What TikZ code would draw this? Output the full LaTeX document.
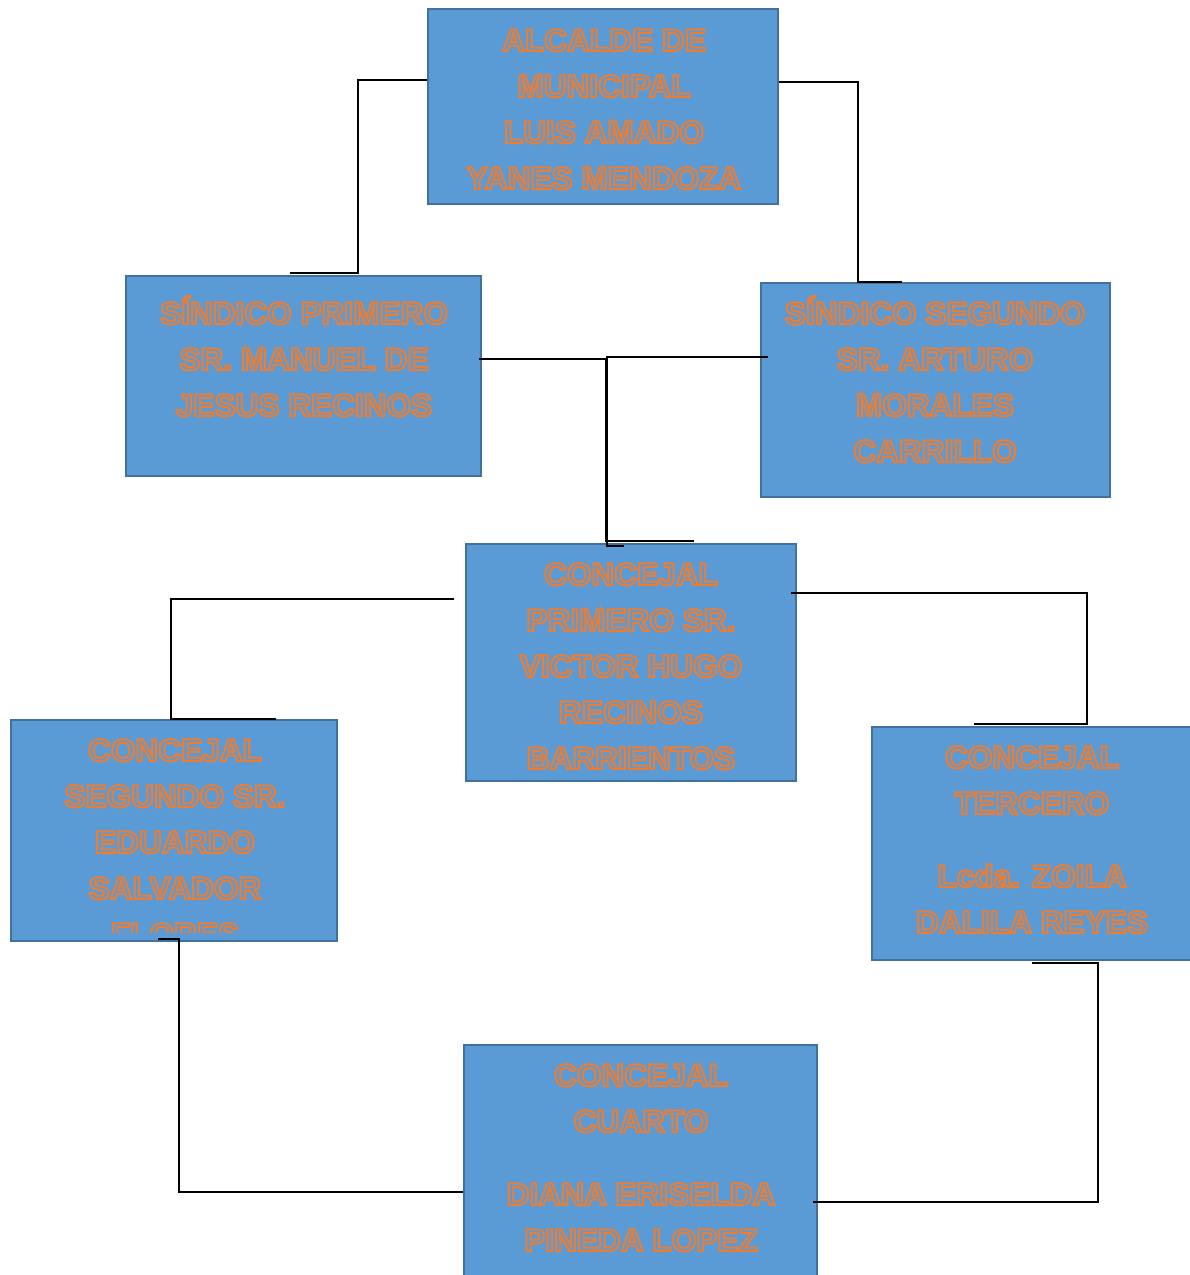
\documentclass[tikz,border=0pt]{standalone}
\usepackage{fontspec}
\setmainfont{Liberation Sans}
\usetikzlibrary{calc}
\definecolor{boxfill}{HTML}{5B9BD5}
\definecolor{boxline}{HTML}{41719C}
\definecolor{txtorange}{HTML}{ED7D31}
\newcommand{\outlon}{\special{pdf:literal direct 1 Tr 2.0 w}}
\newcommand{\outloff}{\special{pdf:literal direct 0 Tr}}
\newcommand{\firststrut}{\rule{0pt}{30pt}}
\tikzset{
  orgbox/.style={draw=boxline, fill=boxfill, line width=2pt, rectangle, inner sep=0pt},
  orgtext/.style={anchor=north, inner sep=0pt, align=center, text=txtorange,
    font=\fontsize{31.6pt}{46pt}\selectfont\bfseries},
  link/.style={draw=black, line width=1.1pt}
}
\begin{document}
\begin{tikzpicture}[x=1pt,y=-1pt]
\useasboundingbox (0,0) rectangle (1190,1275);
% boxes
\node[orgbox, minimum width=350pt, minimum height=195pt] (alc) at (603,106.5) {};
\node[orgbox, minimum width=355pt, minimum height=200pt] (s1) at (303.5,376) {};
\node[orgbox, minimum width=349pt, minimum height=214pt] (s2) at (935.5,390) {};
\node[orgbox, minimum width=330pt, minimum height=237pt] (c1) at (631,662.5) {};
\node[orgbox, minimum width=326pt, minimum height=221pt] (c2) at (174,830.5) {};
\node[orgbox, minimum width=323pt, minimum height=233pt] (c3) at (1033.5,843.5) {};
\node[orgbox, minimum width=353pt, minimum height=240pt] (c4) at (640.5,1165) {};
% texts
\node[orgtext] (talc) at (604,21) {\outlon\firststrut ALCALDE DE\\MUNICIPAL\\LUIS AMADO\\YANES MENDOZA\outloff};
\node[orgtext] (ts1) at (304,294) {\outlon\firststrut SÍNDICO PRIMERO\\SR. MANUEL DE\\JESUS RECINOS\outloff};
\node[orgtext] (ts2) at (935,294) {\outlon\firststrut SÍNDICO SEGUNDO\\SR. ARTURO\\MORALES\\CARRILLO\outloff};
\node[orgtext] (tc1) at (631,555) {\outlon\firststrut CONCEJAL\\PRIMERO SR.\\VICTOR HUGO\\RECINOS\\BARRIENTOS\outloff};
\begin{scope}
  \clip (11,720) rectangle (337,932);
  \node[orgtext] (tc2) at (175,731) {\outlon\firststrut CONCEJAL\\SEGUNDO SR.\\EDUARDO\\SALVADOR\\FLORES\outloff};
\end{scope}
\node[orgtext] (tc3) at (1032,738) {\outlon\firststrut CONCEJAL\\TERCERO\\[27pt]Lcda. ZOILA\\DALILA REYES\outloff};
\node[orgtext] (tc4) at (641,1056) {\outlon\firststrut CONCEJAL\\CUARTO\\[27pt]DIANA ERISELDA\\PINEDA LOPEZ\outloff};
% connectors
\draw[link] ($(alc.north west)+(0,72)$) -| ($(s1.north west)+(233,-2)$) -- ($(s1.north west)+(165,-2)$);
\draw[link] ($(alc.north east)+(0,74)$) -| ($(s2.north west)+(98,0)$) -- ($(s2.north west)+(142,0)$);
\draw[link] ($(s1.north east)+(-3,84)$) -| ($(c1.north west)+(141,-2)$) -- ($(c1.north west)+(229,-2)$);
\draw[link] ($(s2.north west)+(8,75)$) -| ($(c1.north west)+(142,3)$) -- ($(c1.north west)+(159,3)$);
\draw[link] ($(c1.north west)+(-11,56)$) -| ($(c2.north west)+(161,0)$) -- ($(c2.north west)+(266,0)$);
\draw[link] ($(c1.north east)+(-6,50)$) -| ($(c3.north west)+(216,-2)$) -- ($(c3.north west)+(103,-2)$);
\draw[link] ($(c2.south west)+(148,-3)$) -- ($(c2.south west)+(169,-3)$) |- ($(c4.north west)+(0,148)$);
\draw[link] ($(c3.south west)+(161,2)$) -- ($(c3.south west)+(227,2)$) |- ($(c4.north east)+(-5,158)$);
\end{tikzpicture}
\end{document}
